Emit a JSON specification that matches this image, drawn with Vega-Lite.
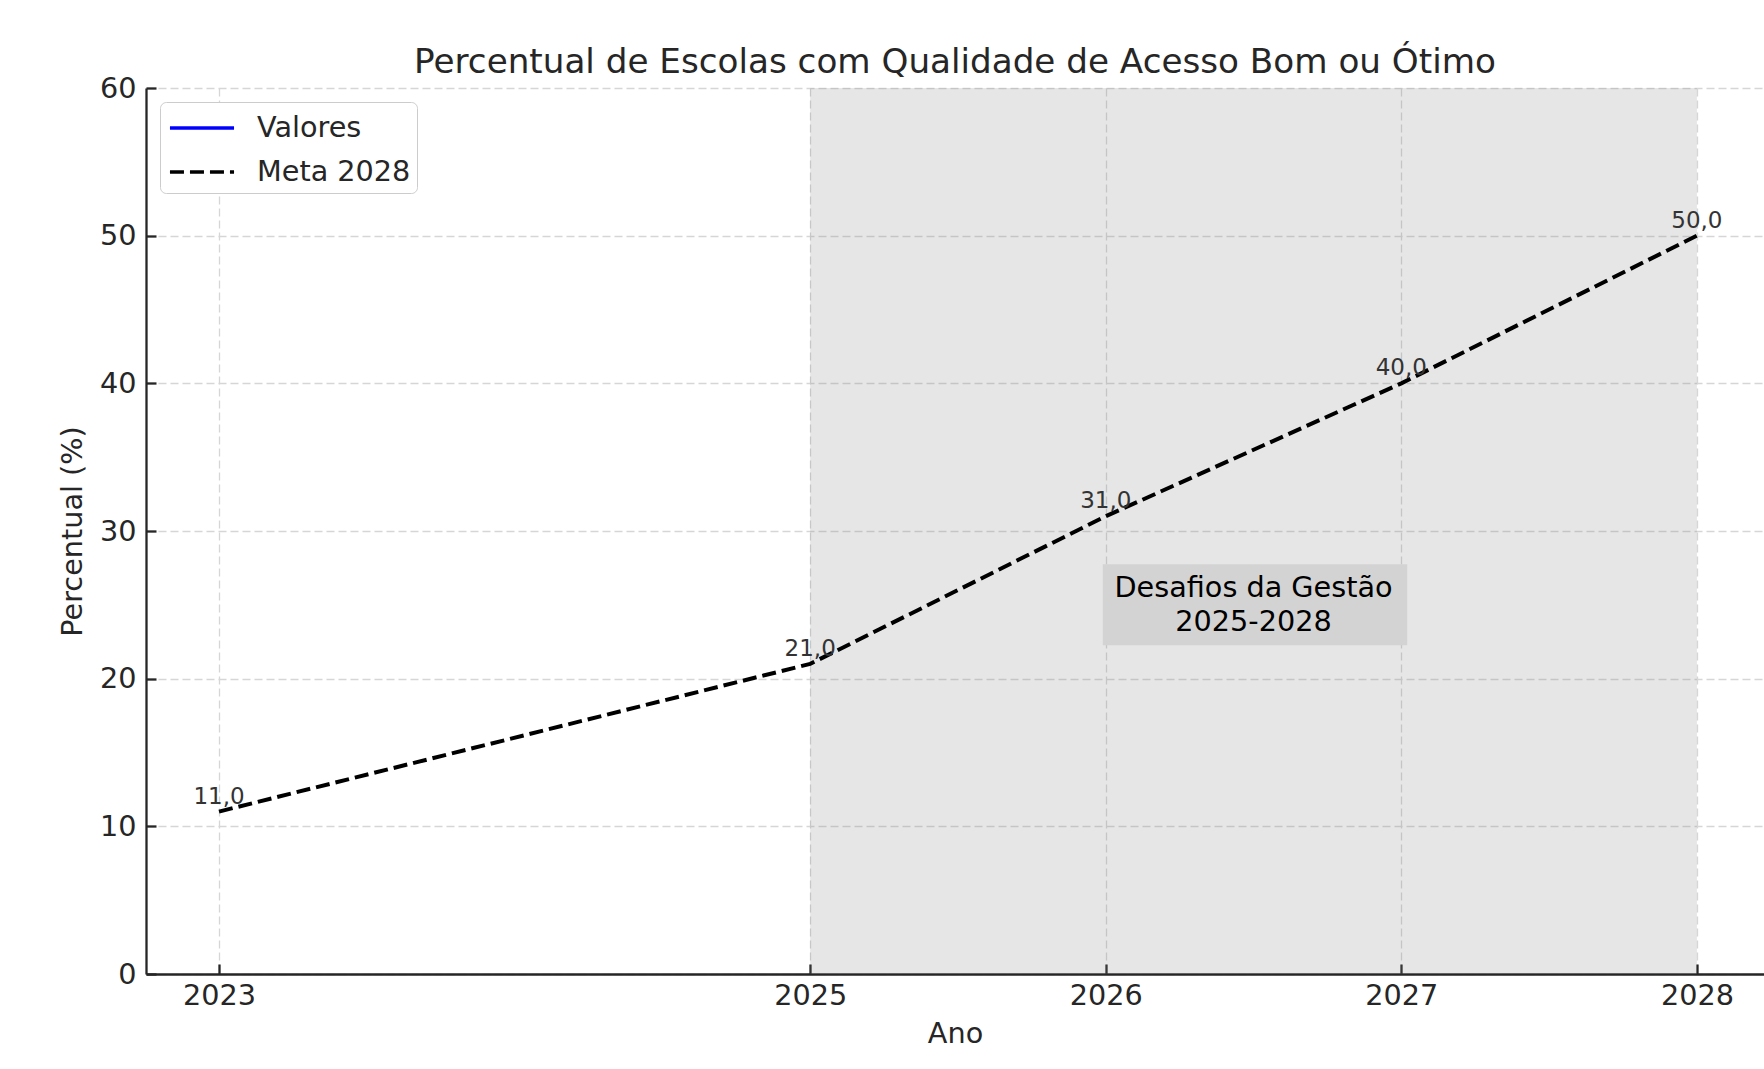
{
  "$schema": "https://vega.github.io/schema/vega-lite/v6.json",
  "width": 1618,
  "height": 886,
  "autosize": {"type": "none"},
  "padding": {"left": 146, "top": 88, "right": 0, "bottom": 95},
  "background": "white",
  "config": {
    "font": "DejaVu Sans",
    "locale": {"number": {"decimal": ",", "thousands": ".", "grouping": [3], "currency": ["", ""]}},
    "view": {"stroke": null},
    "axis": {
      "grid": true,
      "labelFont": "DejaVu Sans",
      "labelFontSize": 28.7,
      "labelColor": "#262626",
      "titleFont": "DejaVu Sans",
      "titleFontSize": 28.7,
      "titleFontWeight": "normal",
      "titleColor": "#262626",
      "domainColor": "#262626",
      "domainWidth": 2.3,
      "tickColor": "#262626",
      "tickWidth": 2.3,
      "tickSize": -10,
      "labelPadding": 20,
      "gridColor": "#d6d6d6",
      "gridDash": [8, 4],
      "gridWidth": 1.3
    },
    "legend": {
      "orient": "top-left",
      "offset": 14,
      "fillColor": "white",
      "strokeColor": "#cccccc",
      "cornerRadius": 6,
      "padding": 6,
      "labelFont": "DejaVu Sans",
      "labelFontSize": 28.7,
      "labelColor": "#262626",
      "labelOffset": 35,
      "symbolType": "M-1.78,0H1.78",
      "symbolSize": 1296,
      "symbolOffset": 16,
      "symbolStrokeWidth": 3.5,
      "rowPadding": 9
    }
  },
  "title": {
    "text": "Percentual de Escolas com Qualidade de Acesso Bom ou Ótimo",
    "font": "DejaVu Sans",
    "fontSize": 34.2,
    "fontWeight": "normal",
    "color": "#262626",
    "anchor": "middle",
    "baseline": "alphabetic",
    "offset": -33
  },
  "data": {
    "values": [
      {"serie": "Meta 2028", "ano": 2023, "valor": 11},
      {"serie": "Meta 2028", "ano": 2025, "valor": 21},
      {"serie": "Meta 2028", "ano": 2026, "valor": 31},
      {"serie": "Meta 2028", "ano": 2027, "valor": 40},
      {"serie": "Meta 2028", "ano": 2028, "valor": 50}
    ]
  },
  "layer": [
    {
      "data": {"values": [{"inicio": 2025, "fim": 2028}]},
      "mark": {"type": "rect", "color": "#808080", "opacity": 0.2},
      "encoding": {
        "x": {"field": "inicio", "type": "quantitative"},
        "x2": {"field": "fim"},
        "y": {"datum": 0, "type": "quantitative"},
        "y2": {"datum": 60}
      }
    },
    {
      "mark": {"type": "line", "strokeWidth": 4},
      "encoding": {
        "x": {
          "field": "ano",
          "type": "quantitative",
          "scale": {"domain": [2022.753, 2028.227], "nice": false, "zero": false},
          "axis": {"grid": true, "values": [2023, 2025, 2026, 2027, 2028], "format": "d", "title": "Ano", "titlePadding": 10, "labelPadding": 17}
        },
        "y": {
          "field": "valor",
          "type": "quantitative",
          "scale": {"domain": [0, 60], "nice": false},
          "axis": {"grid": true, "values": [0, 10, 20, 30, 40, 50, 60], "title": "Percentual (%)", "titlePadding": 12}
        },
        "color": {
          "field": "serie",
          "type": "nominal",
          "scale": {"domain": ["Valores", "Meta 2028"], "range": ["#0000ff", "#000000"]},
          "legend": {"title": null}
        },
        "strokeDash": {
          "field": "serie",
          "type": "nominal",
          "scale": {"domain": ["Valores", "Meta 2028"], "range": [[1, 0], [14, 6]]},
          "legend": {"title": null}
        }
      }
    },
    {
      "mark": {"type": "text", "fontSize": 23, "color": "#333333", "baseline": "bottom", "align": "center", "dy": -3},
      "encoding": {
        "x": {"field": "ano", "type": "quantitative"},
        "y": {"field": "valor", "type": "quantitative"},
        "text": {"field": "valor", "type": "quantitative", "format": ".1f"}
      }
    },
    {
      "data": {"values": [{"nota": "Desafios da Gestão 2025-2028"}]},
      "layer": [
        {
          "mark": {"type": "rect", "color": "#d3d3d3"},
          "encoding": {
            "x": {"datum": 2025.99, "type": "quantitative"},
            "x2": {"datum": 2027.02},
            "y": {"datum": 22.27, "type": "quantitative"},
            "y2": {"datum": 27.75}
          }
        },
        {
          "mark": {"type": "text", "fontSize": 28.7, "color": "#000000", "align": "center", "baseline": "middle", "lineHeight": 34, "dy": -17},
          "encoding": {
            "x": {"datum": 2026.5, "type": "quantitative"},
            "y": {"datum": 25, "type": "quantitative"},
            "text": {"value": ["Desafios da Gestão", "2025-2028"]}
          }
        }
      ]
    }
  ]
}
